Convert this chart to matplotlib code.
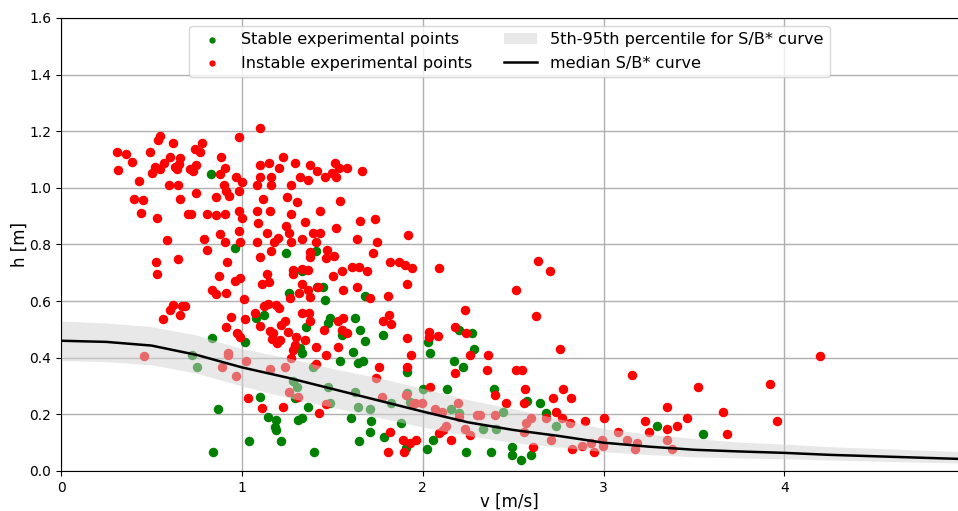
import numpy as np
import matplotlib
matplotlib.use('Agg')
import matplotlib.pyplot as plt

# stable experimental points (v [m/s], h [m])
stable_v = [0.827, 0.961, 0.834, 1.017, 0.722, 0.753, 0.866, 0.842, 1.040,
            1.243, 1.409, 1.261, 1.413, 1.449, 1.680, 1.330, 1.459,
            1.077, 1.122, 1.357, 1.477, 1.486, 1.624, 1.652, 1.680, 1.551, 1.781,
            1.320, 1.330, 1.612, 1.541, 1.643, 1.670, 1.913, 1.099, 1.145, 1.191,
            1.182, 1.188, 1.311, 1.330, 1.366, 1.214, 1.398, 1.606, 1.716, 1.711,
            1.785, 1.648, 1.882, 1.910,
            1.283, 1.306, 1.293, 1.394, 1.477, 1.490, 1.624, 1.643, 1.707, 1.827, 1.913,
            2.029, 2.043, 2.201, 2.274, 2.282, 2.171, 2.223, 2.002, 2.136, 2.392,
            2.578, 2.646, 2.444, 2.683, 2.057, 2.024, 2.238, 2.380, 2.496, 2.496,
            2.541, 2.597,
            1.928, 2.158, 2.201, 2.333, 2.403, 2.739,
            3.297, 3.549]
stable_h = [1.049, 0.789, 0.469, 0.457, 0.409, 0.369, 0.219, 0.067, 0.107,
            0.769, 0.778, 0.630, 0.649, 0.649, 0.618, 0.707, 0.604,
            0.540, 0.551, 0.510, 0.522, 0.540, 0.540, 0.498, 0.460, 0.481, 0.481,
            0.434, 0.418, 0.421, 0.390, 0.381, 0.390, 0.351, 0.260, 0.190, 0.180,
            0.157, 0.145, 0.180, 0.186, 0.227, 0.107, 0.066, 0.188, 0.178, 0.139,
            0.121, 0.107, 0.168, 0.080,
            0.319, 0.296, 0.257, 0.366, 0.298, 0.239, 0.280, 0.227, 0.218, 0.239, 0.275,
            0.457, 0.418, 0.498, 0.489, 0.430, 0.389, 0.369, 0.289, 0.289, 0.290,
            0.247, 0.239, 0.210, 0.204, 0.110, 0.077, 0.068, 0.068, 0.086, 0.057,
            0.039, 0.057,
            0.242, 0.218, 0.204, 0.147, 0.147, 0.159,
            0.159, 0.130]

# instable experimental points
instable_v = [0.547, 0.536, 0.311, 0.357, 0.492, 0.617, 0.781, 0.740, 0.768, 0.983,
              0.392, 0.317, 0.602, 0.659, 0.571, 0.519, 0.547, 0.501, 0.630, 0.654,
              0.639, 0.713, 0.744, 0.728, 0.884, 0.906, 0.878, 0.433, 0.967, 0.998,
              0.985, 0.599, 0.648, 0.901, 0.915, 0.927, 0.744, 0.403, 0.455, 0.657,
              0.855, 0.440, 0.532, 0.700, 0.716, 0.808, 0.856, 0.904, 0.985, 0.998,
              0.985, 0.878, 0.989, 0.906, 0.792, 0.807, 0.587, 0.648, 0.525, 0.532,
              0.917, 0.875, 0.961, 0.989, 0.834, 0.855, 0.915, 1.011,
              0.620, 0.667, 0.685, 0.602, 0.657, 0.565, 0.939, 0.912, 0.971, 0.989,
              1.017, 0.460, 0.925, 0.925, 0.888, 0.967, 1.022, 1.035,
              1.103, 1.103, 1.149, 1.206, 1.225, 1.293, 1.376, 1.413, 1.514, 1.536,
              1.582, 1.667, 1.501, 1.518, 1.459, 1.103, 1.159, 1.320, 1.366, 1.081,
              1.159, 1.271, 1.118, 1.252, 1.306, 1.545, 1.085, 1.155, 1.271, 1.431,
              1.090, 1.348, 1.652, 1.735, 1.243, 1.523, 1.140, 1.201, 1.178, 1.261,
              1.269, 1.331, 1.394, 1.431, 1.409, 1.081, 1.639, 1.745, 1.919, 1.103,
              1.159, 1.376, 1.379, 1.471, 1.464, 1.508, 1.725, 1.818, 1.867, 1.902,
              1.140, 1.151, 1.109, 1.283, 1.283, 1.330, 1.366, 1.330, 1.504, 1.556,
              1.609, 1.648, 1.694, 1.915, 1.317, 1.366, 1.422, 1.560, 1.637, 1.808,
              1.265, 1.376, 1.707,
              1.072, 1.122, 1.145, 1.188, 1.206, 1.099, 1.155, 1.173, 1.164, 1.210,
              1.195, 1.238, 1.219, 1.256, 1.302, 1.330, 1.370, 1.376, 1.348, 1.293,
              1.283, 1.271, 1.409, 1.409, 1.464, 1.453, 1.532, 1.560, 1.551, 1.579,
              1.532, 1.781, 1.812, 1.827, 1.759, 1.744, 1.913, 1.913, 1.114, 1.228,
              1.427, 1.818, 1.891, 1.895, 1.808,
              1.155, 1.238, 1.261, 1.311, 1.464, 1.777, 1.906,
              1.943, 2.090, 2.637, 2.705, 2.518, 2.234, 2.624, 2.177, 2.241, 2.035,
              2.035, 2.085, 1.934, 2.260, 2.361, 2.177, 2.355, 2.518, 2.551, 2.757,
              2.039, 2.398, 2.564, 2.459, 2.195, 2.558, 2.720, 2.683, 2.600, 2.739,
              2.090, 2.112, 2.158, 1.928, 1.965, 2.609,
              1.946, 1.998, 1.956, 2.066, 2.109, 2.201, 2.300, 2.315, 2.398, 2.127,
              2.232, 2.260, 2.573, 2.558, 2.711,
              2.775, 2.818, 2.772, 2.812, 2.899, 3.000, 3.155, 3.081, 3.230, 3.250,
              3.350, 3.350, 3.407, 3.460, 3.521, 3.659, 3.681, 3.923, 3.961, 4.197,
              2.827,
              2.882, 2.932, 2.946, 2.993, 2.996, 3.129, 3.184, 3.175, 3.352, 3.379]
instable_h = [1.184, 1.170, 1.127, 1.119, 1.127, 1.158, 1.160, 1.139, 1.128, 1.178,
              1.092, 1.062, 1.108, 1.107, 1.087, 1.073, 1.068, 1.052, 1.075, 1.084,
              1.066, 1.068, 1.081, 1.060, 1.110, 1.070, 1.048, 1.026, 1.040, 1.020,
              0.990, 1.011, 1.011, 1.011, 0.989, 0.973, 0.983, 0.962, 0.958, 0.962,
              0.966, 0.911, 0.895, 0.909, 0.909, 0.909, 0.905, 0.909, 0.920, 0.892,
              0.849, 0.838, 0.809, 0.809, 0.819, 0.781, 0.816, 0.748, 0.737, 0.695,
              0.737, 0.690, 0.672, 0.681, 0.640, 0.625, 0.629, 0.608,
              0.587, 0.584, 0.583, 0.569, 0.551, 0.538, 0.544, 0.510, 0.487, 0.475,
              0.536, 0.407, 0.418, 0.410, 0.366, 0.336, 0.390, 0.257,
              1.211, 1.081, 1.089, 1.069, 1.108, 1.089, 1.080, 1.060, 1.089, 1.069,
              1.069, 1.060, 1.052, 1.040, 1.040, 1.040, 1.040, 1.040, 1.028, 1.011,
              1.011, 1.011, 0.960, 0.967, 0.949, 0.954, 0.919, 0.919, 0.908, 0.920,
              0.875, 0.881, 0.883, 0.889, 0.867, 0.860, 0.839, 0.824, 0.810, 0.840,
              0.810, 0.821, 0.840, 0.840, 0.810, 0.810, 0.820, 0.810, 0.834, 0.757,
              0.778, 0.773, 0.757, 0.781, 0.754, 0.760, 0.769, 0.737, 0.737, 0.728,
              0.696, 0.667, 0.660, 0.710, 0.696, 0.713, 0.710, 0.661, 0.687, 0.708,
              0.720, 0.720, 0.708, 0.660, 0.630, 0.640, 0.649, 0.640, 0.651, 0.618,
              0.612, 0.616, 0.612,
              0.559, 0.583, 0.590, 0.587, 0.575, 0.512, 0.496, 0.487, 0.465, 0.463,
              0.451, 0.528, 0.516, 0.490, 0.475, 0.559, 0.559, 0.528, 0.463, 0.445,
              0.428, 0.398, 0.437, 0.378, 0.410, 0.498, 0.531, 0.540, 0.498, 0.487,
              0.437, 0.528, 0.551, 0.519, 0.366, 0.328, 0.469, 0.366, 0.222, 0.225,
              0.204, 0.139, 0.110, 0.068, 0.068,
              0.359, 0.369, 0.280, 0.263, 0.237, 0.260, 0.269,
              0.716, 0.718, 0.740, 0.708, 0.640, 0.569, 0.549, 0.510, 0.489, 0.490,
              0.472, 0.478, 0.410, 0.410, 0.410, 0.347, 0.357, 0.357, 0.357, 0.430,
              0.298, 0.269, 0.289, 0.239, 0.239, 0.239, 0.259, 0.186, 0.186, 0.210,
              0.133, 0.145, 0.110, 0.098, 0.110, 0.086,
              0.237, 0.241, 0.239, 0.218, 0.210, 0.190, 0.198, 0.198, 0.198, 0.159,
              0.147, 0.127, 0.168, 0.139, 0.110,
              0.289, 0.259, 0.186, 0.168, 0.178, 0.188, 0.338, 0.139, 0.178, 0.137,
              0.227, 0.147, 0.159, 0.188, 0.298, 0.208, 0.130, 0.307, 0.178, 0.407,
              0.077,
              0.088, 0.098, 0.068, 0.110, 0.088, 0.110, 0.100, 0.077, 0.110, 0.077]

# S/B* curve: median and 5th-95th percentile band
curve_v = [0.0, 0.25, 0.5, 0.75, 1.0, 1.25, 1.5, 1.75, 2.0, 2.25, 2.5,
           2.75, 3.0, 3.25, 3.5, 3.75, 4.0, 4.25, 4.5, 4.75, 5.0]
curve_med = [0.460, 0.456, 0.443, 0.410, 0.366, 0.330, 0.290, 0.250, 0.210, 0.172, 0.145,
             0.124, 0.100, 0.086, 0.075, 0.069, 0.064, 0.057, 0.052, 0.047, 0.042]
curve_p95 = [0.530, 0.523, 0.510, 0.480, 0.432, 0.400, 0.362, 0.330, 0.292, 0.252, 0.220,
             0.185, 0.150, 0.130, 0.115, 0.102, 0.095, 0.086, 0.080, 0.074, 0.068]
curve_p05 = [0.390, 0.386, 0.375, 0.345, 0.300, 0.260, 0.225, 0.190, 0.155, 0.125, 0.100,
             0.085, 0.068, 0.058, 0.050, 0.046, 0.043, 0.039, 0.035, 0.031, 0.028]

fig = plt.figure(figsize=(9.58, 5.11), dpi=100)
ax = fig.add_axes([0.0637, 0.0783, 0.9363, 0.8865])

ax.scatter(stable_v, stable_h, s=34, color='green', label='Stable experimental points')
ax.scatter(instable_v, instable_h, s=34, color='red', label='Instable experimental points')
ax.fill_between(curve_v, curve_p05, curve_p95, color='lightgray', alpha=0.5, lw=0,
                label='5th-95th percentile for S/B* curve')
ax.plot(curve_v, curve_med, color='black', lw=1.8, label='median S/B* curve', zorder=3)

ax.set_xlim(0, 4.96)
ax.set_ylim(0, 1.6)
ax.set_xticks([0, 1, 2, 3, 4])
ax.set_yticks(np.arange(0, 1.61, 0.2))
ax.tick_params(labelsize=10)
ax.grid(True, color='#b0b0b0', lw=1)
ax.set_axisbelow(True)
ax.spines['right'].set_visible(False)

ax.set_xlabel('v [m/s]', fontsize=12, labelpad=-1.5)
ax.set_ylabel('h [m]', fontsize=12, labelpad=0)

ax.legend(loc='upper center', ncol=2, fontsize=11.6, markerscale=0.6,
          columnspacing=2.0, handlelength=2.0)

fig.savefig('out.png', dpi=100)
